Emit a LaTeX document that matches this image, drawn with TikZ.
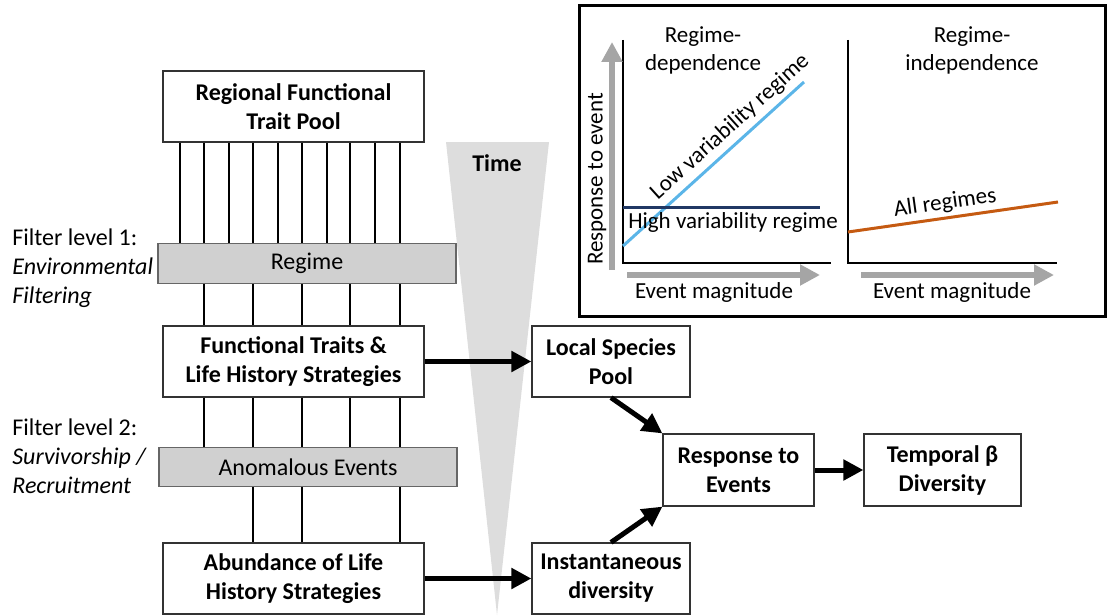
\documentclass[tikz,border=0pt]{standalone}
\usepackage{fontspec}
\setmainfont{Carlito}
\usetikzlibrary{arrows.meta,positioning}
\definecolor{filtergray}{HTML}{D0D0D0}
\definecolor{timegray}{HTML}{DDDDDD}
\definecolor{axisgray}{HTML}{A5A5A5}
\definecolor{lowblue}{HTML}{5BB5E8}
\definecolor{highnavy}{HTML}{203864}
\definecolor{allorange}{HTML}{C55A11}

\begin{document}
\fontsize{12}{14.5}\selectfont
\begin{tikzpicture}[x=0.5pt,y=-0.5pt,
  flowbox/.style={draw=black!80,fill=white,line width=0.6pt,align=center,
    font=\bfseries,inner sep=0pt,minimum height=35.5pt},
  widebox/.style={flowbox,minimum width=130.5pt},
  smallbox/.style={flowbox,minimum width=79pt},
  filterbar/.style={draw=black!60,fill=filtergray,line width=0.6pt,
    inner sep=0pt,minimum width=149pt,minimum height=19.75pt},
  filternote/.style={anchor=west,align=left,inner sep=0pt},
  insettext/.style={font=\fontsize{11.5}{14}\selectfont,align=center},
  traitline/.style={line width=1pt},
  flowarrow/.style={-{Triangle[length=10pt,width=10pt]},line width=2.5pt},
  axisarrow/.style={-{Triangle[length=10pt,width=10pt]},line width=3.4pt,
    draw=axisgray},
  trendline/.style={line width=1.5pt}
]
  \useasboundingbox (0,0) rectangle (1107,615);

  % time wedge
  \fill[timegray] (446,142) -- (549,142) -- (497,615) -- cycle;
  \node[font=\bfseries] (time) at (497,163) {Time};

  % filter column
  \node[widebox] (pool) at (293.5,106.5) {Regional Functional\\Trait Pool};
  \node[filterbar] (regime) at (307,263.5) {Regime};
  \node[widebox] (traits) at (293.5,361.5)
    {Functional Traits \&\\Life History Strategies};
  \node[filterbar] (anomal) at (308,467) {Anomalous Events};
  \node[widebox] (abund) at (293.5,578.5)
    {Abundance of Life\\History Strategies};

  \node[filternote] (filterone) at (12,268)
    {Filter level 1:\\\textit{Environmental}\\\textit{Filtering}};
  \node[filternote] (filtertwo) at (12,456)
    {Filter level 2:\\\textit{Survivorship /}\\\textit{Recruitment}};

  \foreach \lx in {180,204,229,253,278,302,327,350,375,400} {
    \path (\lx,0) coordinate (col);
    \draw[traitline] (col |- pool.south) -- (col |- regime.north);
  }
  \foreach \lx in {204,253,302,350,400} {
    \path (\lx,0) coordinate (col);
    \draw[traitline] (col |- regime.south) -- (col |- traits.north);
    \draw[traitline] (col |- traits.south) -- (col |- anomal.north);
  }
  \foreach \lx in {253,302,400} {
    \path (\lx,0) coordinate (col);
    \draw[traitline] (col |- anomal.south) -- (col |- abund.north);
  }

  % outcome boxes
  \node[smallbox] (local) at (611,361.5) {Local Species\\Pool};
  \node[smallbox] (inst) at (611,578.5) {Instantaneous\\diversity};
  \node[flowbox,minimum width=75.5pt,minimum height=36pt] (response)
    at (738.5,470) {Response to\\Events};
  \node[flowbox,minimum width=78.5pt,minimum height=36pt] (temporal)
    at (942.5,470) {Temporal β\\Diversity};

  \draw[flowarrow] (traits) -- (local);
  \draw[flowarrow] (abund) -- (inst);
  \draw[flowarrow] (local.south) -- (response.north west);
  \draw[flowarrow] (inst.north) -- (response.south west);
  \draw[flowarrow] (response) -- (temporal);

  % inset: response vs event magnitude
  \draw[line width=1.5pt] (579,6) rectangle (1105,316);
  \draw[line width=1pt] (623,40) -- (623,263) -- (831,263);
  \draw[line width=1pt] (848,40) -- (848,263) -- (1057,263);
  \draw[axisarrow] (612,270) -- (612,42);
  \draw[axisarrow] (627,275) -- (820,275);
  \draw[axisarrow] (861,275) -- (1054,275);
  \draw[trendline,lowblue] (623,246) -- (804,82);
  \draw[trendline,highnavy] (623,207) -- (820,207);
  \draw[trendline,allorange] (848,232) -- (1058,202);

  \node[insettext] (depttl) at (703,50) {Regime-\\dependence};
  \node[insettext] (indttl) at (972,50) {Regime-\\independence};
  \node[insettext,rotate=90] (respaxis) at (597,179) {Response to event};
  \node[insettext] (magleft) at (714,292) {Event magnitude};
  \node[insettext] (magright) at (952,292) {Event magnitude};
  \node[insettext] (highlbl) at (733,222) {High variability regime};
  \node[insettext,rotate=42] (lowlbl) at (730,127) {Low variability regime};
  \node[insettext,rotate=8] (alllbl) at (945,203) {All regimes};
\end{tikzpicture}
\end{document}
